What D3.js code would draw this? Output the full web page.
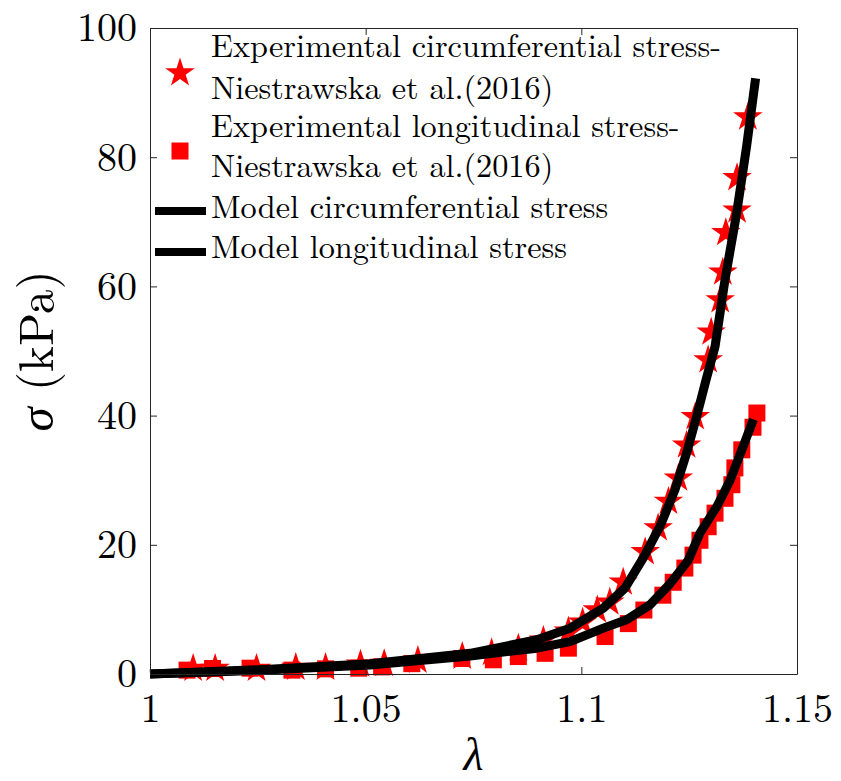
<!DOCTYPE html>
<html>
<head>
<meta charset="utf-8">
<script src="https://cdn.jsdelivr.net/npm/d3@7"></script>
<style>
  html, body { margin: 0; padding: 0; background: #fff; }
  svg { display: block; }
  text { font-family: "Latin Modern Roman", "CMU Serif", "Liberation Serif", serif; fill: #000; }
</style>
</head>
<body>
<svg id="chart" width="841" height="781"></svg>
<script>
// ---------- data ----------
const circLambda = [1.0100,1.0151,1.0247,1.0338,1.0407,1.0488,1.0543,1.0621,1.0724,1.0792,1.0854,1.0912,1.0970,1.1003,1.1037,1.1066,1.1097,1.1148,1.1178,1.1202,1.1225,1.1244,1.1264,1.1294,1.1301,1.1322,1.1328,1.1335,1.1361,1.1361,1.1386];
const circStress = [0.85,0.85,0.85,1.0,1.0,1.5,1.6,2.1,2.7,3.3,4.0,5.2,6.6,8.0,9.9,11.1,14.2,18.9,22.6,26.7,30.3,35.4,39.8,48.6,52.9,57.9,62.2,68.3,71.8,76.8,86.2];

const longLambda = [1.0086,1.0145,1.0232,1.0329,1.0407,1.0484,1.0537,1.0607,1.0723,1.0796,1.0854,1.0916,1.0970,1.1055,1.1109,1.1145,1.1189,1.1213,1.1240,1.1259,1.1275,1.1294,1.1310,1.1333,1.1349,1.1356,1.1372,1.1398,1.1407];
const longStress = [0.6,0.85,0.9,0.6,0.8,0.9,1.1,1.6,2.4,2.2,2.7,3.2,4.0,5.8,7.8,9.9,12.2,14.2,16.4,18.4,20.7,22.8,24.9,27.2,29.3,31.9,34.7,38.2,40.4];

const modelCircLambda = [1.0000,1.0255,1.0510,1.0742,1.0897,1.0974,1.1051,1.1101,1.1144,1.1182,1.1217,1.1244,1.1267,1.1289,1.1310,1.1333,1.1360,1.1383,1.1404];
const modelCircStress = [0,0.67,1.6,3.2,5.3,7.1,10.2,13.3,18.0,22.8,28.5,34.2,39.8,45.5,50.7,61.0,71.3,81.6,92.2];

const modelLongLambda = [1.0000,1.0255,1.0510,1.0742,1.0897,1.0974,1.1051,1.1105,1.1159,1.1206,1.1248,1.1275,1.1314,1.1345,1.1375,1.1399];
const modelLongStress = [0,0.57,1.4,2.8,4.0,5.0,7.1,8.4,10.7,14.0,17.6,21.8,25.9,30.0,35.2,39.4];

const xTicks = [1, 1.05, 1.1, 1.15];
const xTickLabels = ["1", "1.05", "1.1", "1.15"];
const yTicks = [0, 20, 40, 60, 80, 100];
const yTickLabels = ["0", "20", "40", "60", "80", "100"];

const legendLabels = [
  ["Experimental circumferential stress-", "Niestrawska et al.(2016)"],
  ["Experimental longitudinal stress-", "Niestrawska et al.(2016)"],
  ["Model circumferential stress"],
  ["Model longitudinal stress"]
];

// ---------- layout ----------
const svg = d3.select("#chart");
const L = 150, R = 797, T = 28, B = 674;
const x = d3.scaleLinear().domain([1, 1.15]).range([L, R]);
const y = d3.scaleLinear().domain([0, 100]).range([B, T]);
const axisColor = "#262626";
const tickLen = 7;

// ---------- markers ----------
const starPath = d3.symbol().type(d3.symbolStar).size(270)();
const squarePath = d3.symbol().type(d3.symbolSquare).size(289)();

const circData = circLambda.map((l, i) => [l, circStress[i]]);
const longData = longLambda.map((l, i) => [l, longStress[i]]);

svg.append("g").selectAll("path").data(circData).join("path")
  .attr("d", starPath)
  .attr("transform", d => `translate(${x(d[0])},${y(d[1])})`)
  .attr("fill", "#ff0000");

svg.append("g").selectAll("path").data(longData).join("path")
  .attr("d", squarePath)
  .attr("transform", d => `translate(${x(d[0])},${y(d[1])})`)
  .attr("fill", "#ff0000");

// ---------- model lines ----------
const line = d3.line().x(d => x(d[0])).y(d => y(d[1]));
const mCirc = modelCircLambda.map((l, i) => [l, modelCircStress[i]]);
const mLong = modelLongLambda.map((l, i) => [l, modelLongStress[i]]);

[mCirc, mLong].forEach(data => {
  svg.append("path").datum(data)
    .attr("d", line)
    .attr("fill", "none")
    .attr("stroke", "#000")
    .attr("stroke-width", 9)
    .attr("stroke-linejoin", "round")
    .attr("stroke-linecap", "butt");
});

// ---------- axes (box with inward ticks) ----------
function styleAxis(g) {
  g.selectAll(".domain").attr("stroke", axisColor).attr("stroke-width", 1);
  g.selectAll(".tick line").attr("stroke", axisColor).attr("stroke-width", 1);
  g.selectAll(".tick text")
    .style("font-family", '"Latin Modern Roman", "CMU Serif", "Liberation Serif", serif')
    .attr("font-size", 40).attr("fill", "#262626");
}

svg.append("g").attr("transform", `translate(0,${B})`)
  .call(d3.axisBottom(x).tickValues(xTicks).tickFormat((d, i) => xTickLabels[i])
    .tickSizeInner(-tickLen).tickSizeOuter(0).tickPadding(20))
  .call(styleAxis);

svg.append("g").attr("transform", `translate(0,${T})`)
  .call(d3.axisTop(x).tickValues(xTicks).tickFormat("")
    .tickSizeInner(-tickLen).tickSizeOuter(0))
  .call(styleAxis);

svg.append("g").attr("transform", `translate(${L},0)`)
  .call(d3.axisLeft(y).tickValues(yTicks).tickFormat((d, i) => yTickLabels[i])
    .tickSizeInner(-tickLen).tickSizeOuter(0).tickPadding(13))
  .call(styleAxis);

svg.append("g").attr("transform", `translate(${R},0)`)
  .call(d3.axisRight(y).tickValues(yTicks).tickFormat("")
    .tickSizeInner(-tickLen).tickSizeOuter(0))
  .call(styleAxis);

// ---------- axis labels ----------
svg.append("text")
  .attr("x", (L + R) / 2).attr("y", 770)
  .attr("text-anchor", "middle")
  .attr("font-size", 46)
  .attr("font-style", "italic")
  .attr("fill", "#262626")
  .text("λ");

const yl = svg.append("text")
  .attr("transform", `translate(53,${(T + B) / 2}) rotate(-90)`)
  .attr("text-anchor", "middle")
  .attr("font-size", 49)
  .attr("fill", "#262626");
yl.append("tspan").attr("font-style", "italic").text("σ");
yl.append("tspan").text(" (kPa)");

// ---------- legend ----------
const legend = svg.append("g");
const textX = 211;
const baselines = [[56.7, 99.3], [136.7, 176.7], [218.3], [258.3]];
legendLabels.forEach((lines, i) => {
  lines.forEach((t, j) => {
    legend.append("text")
      .attr("x", textX).attr("y", baselines[i][j])
      .attr("font-size", 32.3)
      .text(t);
  });
});
legend.append("path").attr("d", starPath).attr("transform", "translate(180,73)").attr("fill", "#ff0000");
legend.append("path").attr("d", squarePath).attr("transform", "translate(180,151)").attr("fill", "#ff0000");
[211, 252].forEach(yy => {
  legend.append("line")
    .attr("x1", 155).attr("x2", 206).attr("y1", yy).attr("y2", yy)
    .attr("stroke", "#000").attr("stroke-width", 8);
});
</script>
</body>
</html>
